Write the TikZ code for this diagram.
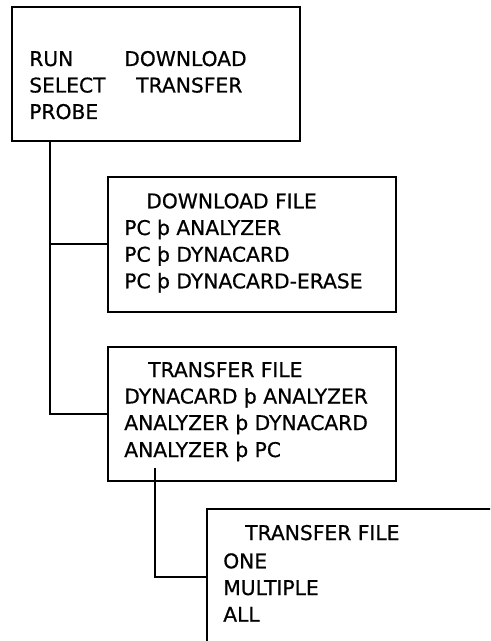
\documentclass[tikz,border=0pt]{standalone}
\usepackage{fontspec}
\setmainfont{DejaVu Sans}[FakeBold=0.6]
\begin{document}
\begin{tikzpicture}[x=0.75pt,y=-0.75pt,
  box/.style={draw=black, line width=1.5pt, fill=white, rectangle, inner sep=0pt, anchor=north west},
  conn/.style={draw=black, line width=1.5pt},
  txt/.style={anchor=base west, inner sep=0pt, font=\fontsize{15.2}{19}\selectfont}]
\useasboundingbox (0,0) rectangle (490,641);
\clip (0,0) rectangle (490,641);
% boxes
\node[box, minimum width=216pt, minimum height=100.5pt] (b1) at (11,6) {};
\node[box, minimum width=216pt, minimum height=101.25pt] (b2) at (107,176) {};
\node[box, minimum width=216pt, minimum height=100.5pt] (b3) at (107,346) {};
\node[box, minimum width=240pt, minimum height=102pt] (b4) at (206,508) {};
% connectors
\coordinate (j) at (49.5,300);
\coordinate (s3) at (155,468);
\draw[conn] (b1.south -| j) |- (b3.west);
\draw[conn] (b2.west -| j) -- (b2.west);
\draw[conn] (s3) |- (b4.west);
% box 1 text
\node[txt] (t1a) at (29,66) {RUN};
\node[txt] (t1b) at (124,66) {DOWNLOAD};
\node[txt] (t1c) at (29,92.5) {SELECT};
\node[txt] (t1d) at (136,92.5) {TRANSFER};
\node[txt] (t1e) at (29,119) {PROBE};
% box 2 text
\node[txt] (t2a) at (146,208.3) {DOWNLOAD FILE};
\node[txt] (t2b) at (124,235) {PC þ ANALYZER};
\node[txt] (t2c) at (124,261.7) {PC þ DYNACARD};
\node[txt] (t2d) at (124,288.3) {PC þ DYNACARD-ERASE};
% box 3 text
\node[txt] (t3a) at (148,377) {TRANSFER FILE};
\node[txt] (t3b) at (124,403.5) {DYNACARD þ ANALYZER};
\node[txt] (t3c) at (124,430) {ANALYZER þ DYNACARD};
\node[txt] (t3d) at (124,457) {ANALYZER þ PC};
% box 4 text
\node[txt] (t4a) at (245,540) {TRANSFER FILE};
\node[txt] (t4b) at (223,568.3) {ONE};
\node[txt] (t4c) at (223,595) {MULTIPLE};
\node[txt] (t4d) at (223,621.7) {ALL};
\end{tikzpicture}
\end{document}
